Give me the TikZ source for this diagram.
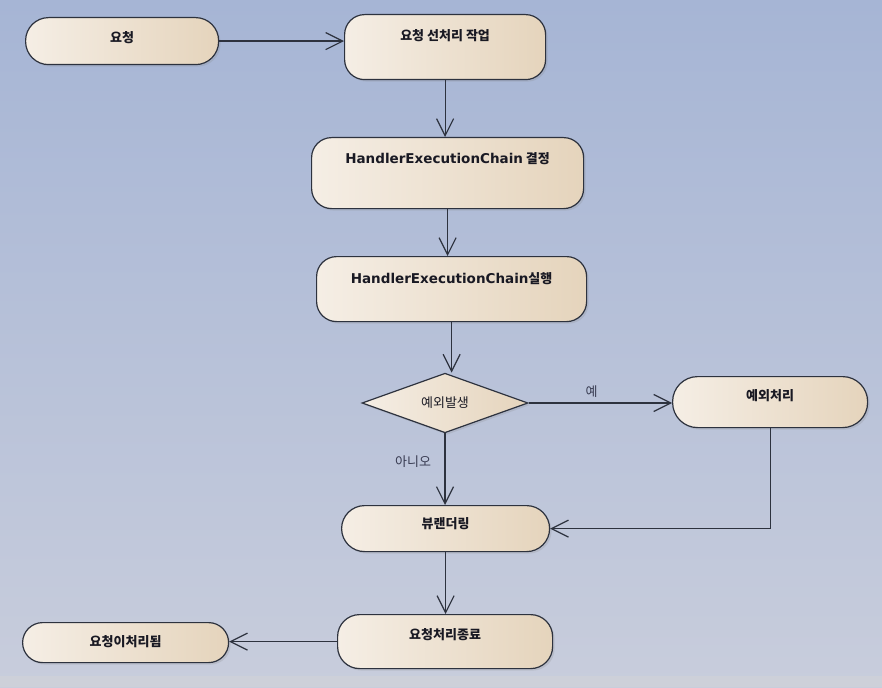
\documentclass[tikz,border=0pt]{standalone}
\usepackage{fontspec}
\newfontfamily\kr{Noto Sans CJK KR}
\newfontfamily\lat{DejaVu Sans}
\usetikzlibrary{arrows.meta,shapes.geometric,shadows,calc}
\definecolor{bgtop}{RGB}{166,181,213}
\definecolor{bgbot}{RGB}{200,205,220}
\definecolor{band}{RGB}{205,208,217}
\definecolor{nodeL}{RGB}{245,238,229}
\definecolor{nodeR}{RGB}{229,212,188}
\definecolor{edgecol}{RGB}{45,50,62}
\definecolor{txt}{RGB}{25,25,35}
\definecolor{lbl}{RGB}{55,58,80}
\begin{document}
\begin{tikzpicture}[x=1pt,y=-1pt,
  state/.style={draw=edgecol, line width=1.2pt, rounded corners=#1,
    left color=nodeL, right color=nodeR,
    drop shadow={shadow xshift=2pt, shadow yshift=-2pt, opacity=0.2},
    font=\kr\bfseries\fontsize{13}{15}\selectfont, text=txt,
    inner xsep=0pt, inner ysep=0pt, anchor=north west},
  decision/.style={diamond, draw=edgecol, line width=1.2pt,
    left color=nodeL, right color=nodeR,
    drop shadow={shadow xshift=2pt, shadow yshift=-2pt, opacity=0.2},
    font=\kr\fontsize{13}{15}\selectfont, text=txt, inner sep=0pt},
  conn/.style={draw=edgecol, line width=1.2pt,
    -{Straight Barb[length=17pt 0 0, width=17pt 0 0]}},
  elabel/.style={font=\kr\fontsize{13}{15}\selectfont, text=lbl}
]
\useasboundingbox (0,0) rectangle (882,687);
\shade[top color=bgtop, bottom color=bgbot] (0,0) rectangle (882,687);
\fill[band] (0,676) rectangle (882,687);

\node[state=23pt, minimum width=193pt, text height=25pt, text depth=22pt] (req) at (25,17) {요청};
\node[state=20pt, minimum width=201pt, text height=26pt, text depth=39pt] (pre) at (344,14) {요청 선처리 작업};
\node[state=20pt, minimum width=272pt, text height=26pt, text depth=45pt] (det) at (311,137) {{\lat\fontsize{13.5}{15}\selectfont HandlerExecutionChain} 결정};
\node[state=20pt, minimum width=270pt, text height=27pt, text depth=38pt] (exe) at (316,256) {{\lat\fontsize{13.5}{15}\selectfont HandlerExecutionChain}실행};
\node[decision, minimum width=166pt, minimum height=58pt] (dia) at (445,403) {예외발생};
\node[state=25pt, minimum width=195pt, text height=24pt, text depth=27pt] (exc) at (672,376) {예외처리};
\node[state=23pt, minimum width=208pt, text height=23pt, text depth=23pt] (view) at (341,505) {뷰랜더링};
\node[state=22pt, minimum width=215pt, text height=25pt, text depth=29pt] (fin) at (337,614) {요청처리종료};
\node[state=20pt, minimum width=206pt, text height=24pt, text depth=16pt] (done) at (22,622) {요청이처리됨};

\draw[conn] (req.east) -- (req.east -| pre.west);
\draw[conn] (pre.south) -- (pre.south |- det.north);
\draw[conn] (det.south) -- (det.south |- exe.north);
\draw[conn] (exe.south) -- (exe.south |- dia.north);
\draw[conn] (dia.east) -- node[elabel, pos=0.44, above=2pt] (yes) {예} (dia.east -| exc.west);
\draw[conn] (dia.south) -- node[elabel, pos=0.4, left=10pt] (no) {아니오} (dia.south |- view.north);
\draw[conn] (exc.south) |- (view.east);
\draw[conn] (view.south) -- (view.south |- fin.north);
\draw[conn] (fin.west) -- (fin.west -| done.east);
\end{tikzpicture}
\end{document}
